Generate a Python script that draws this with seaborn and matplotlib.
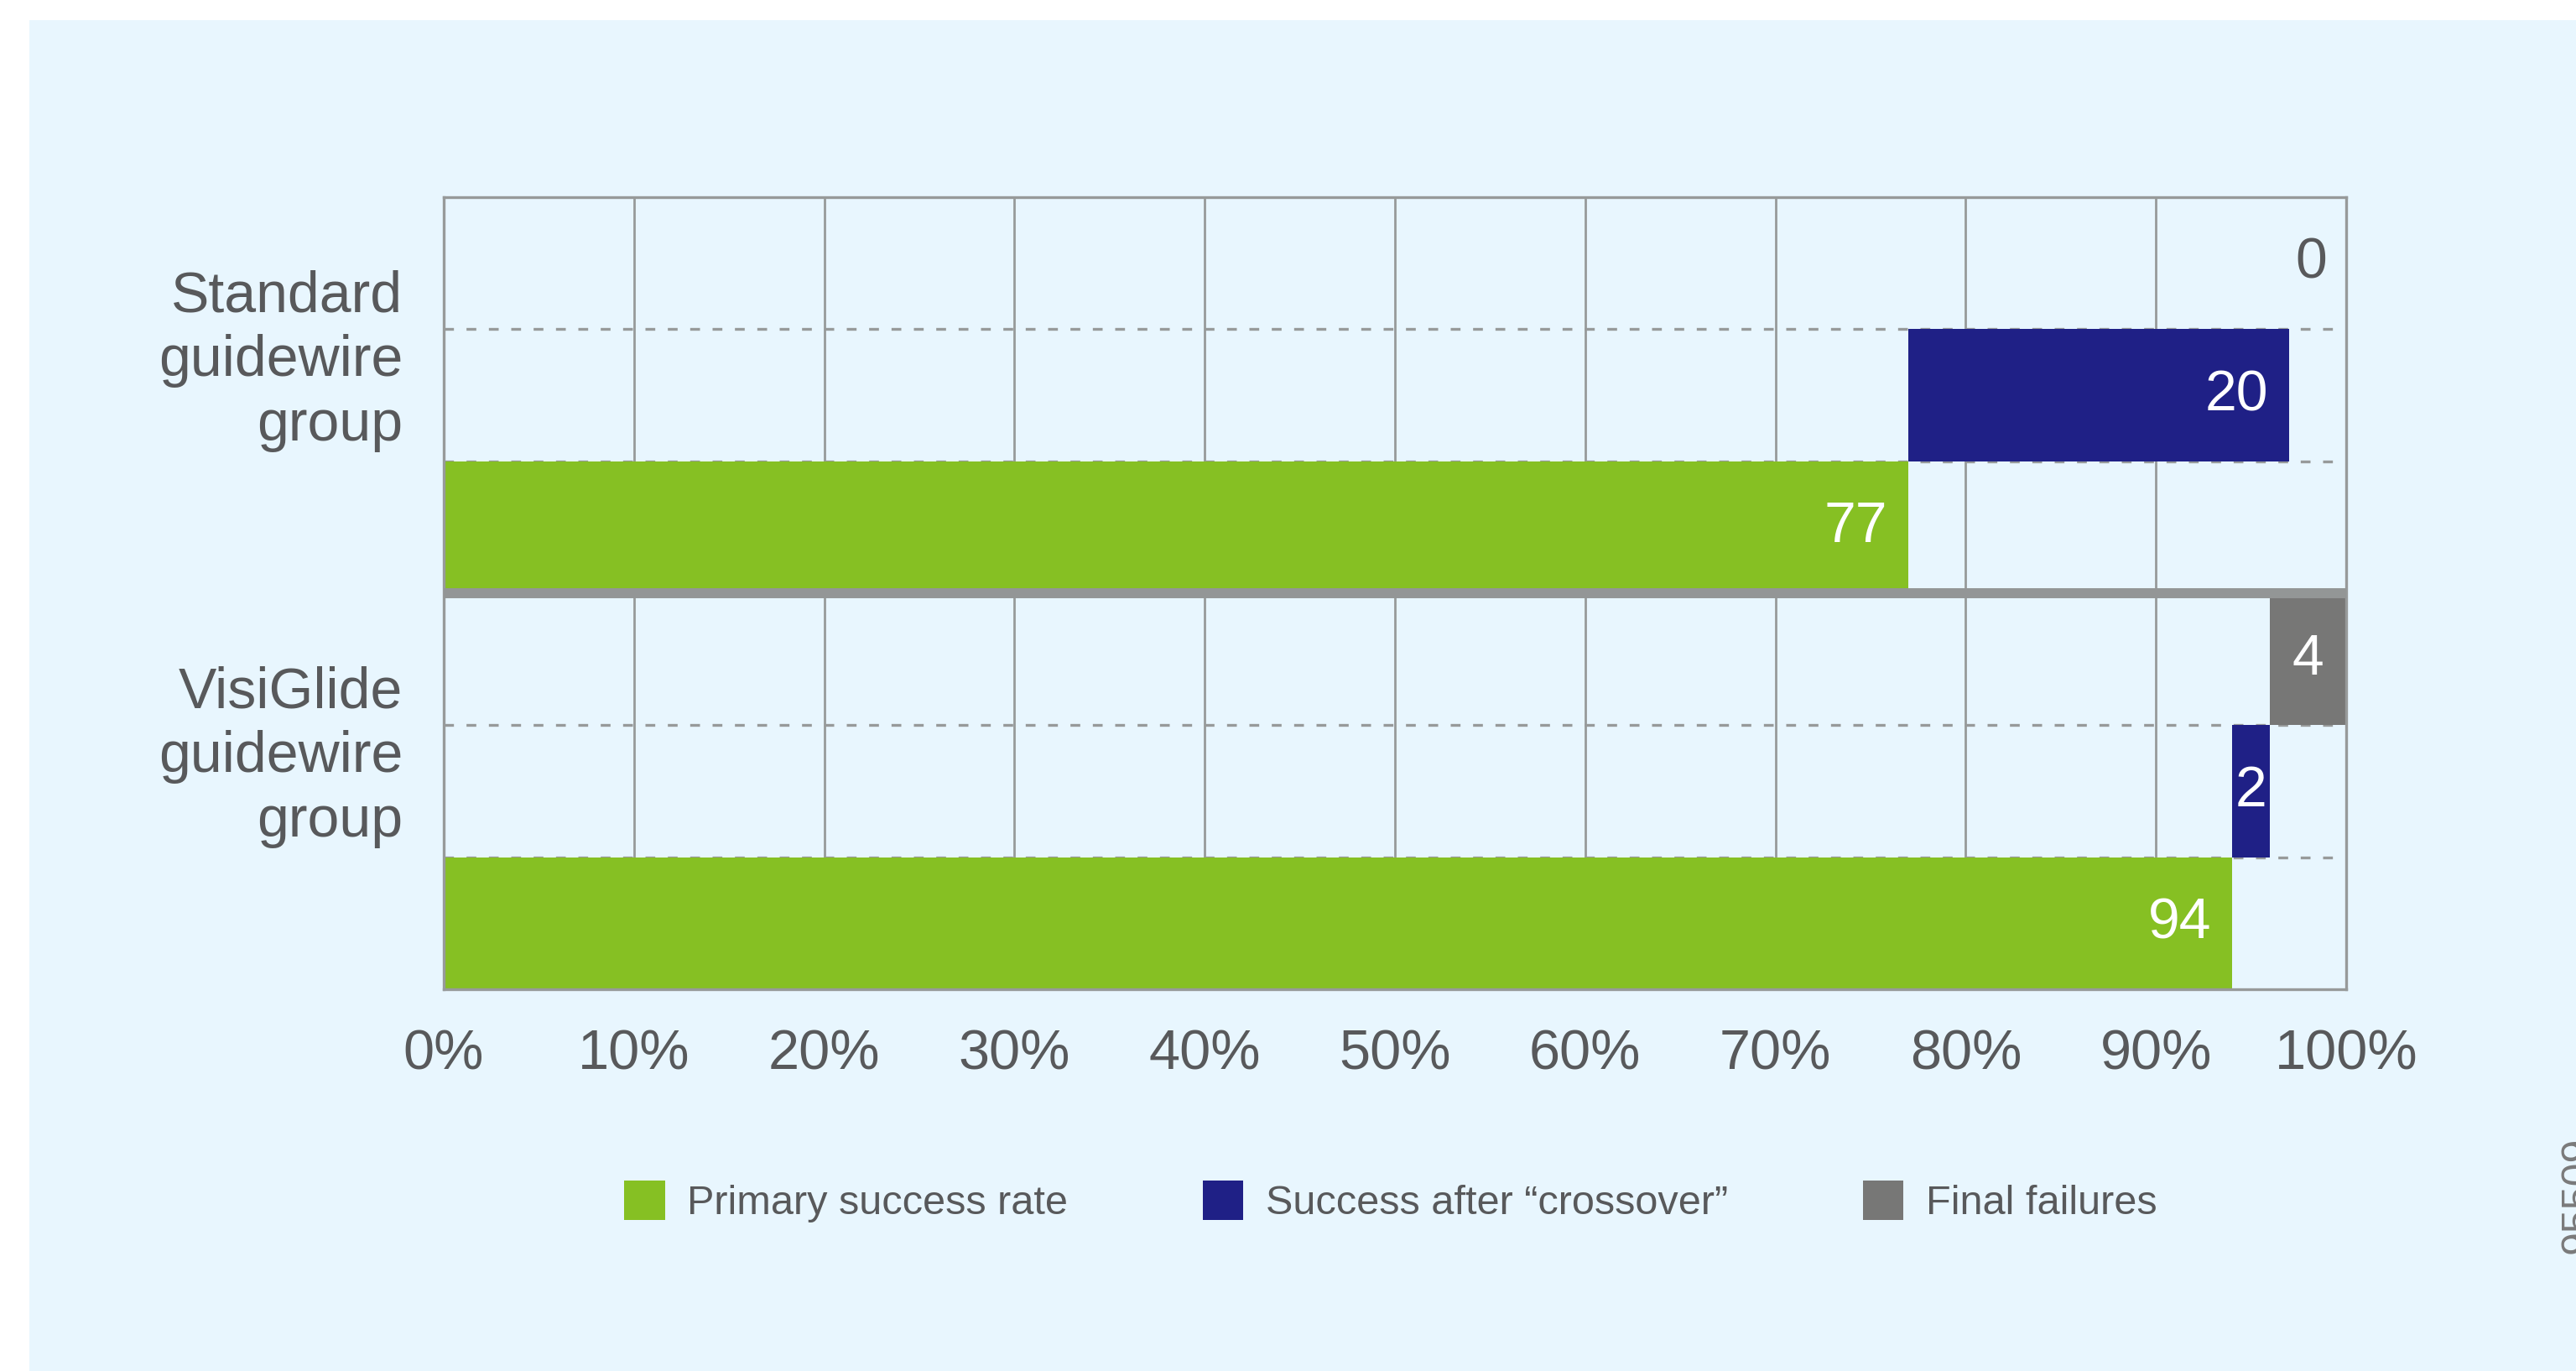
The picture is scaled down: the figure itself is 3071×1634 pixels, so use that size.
import matplotlib
matplotlib.use("Agg")
import matplotlib.pyplot as plt
from matplotlib.patches import Rectangle, Patch
import seaborn as sns
import numpy as np
import pandas as pd

# ---------------- data ----------------
groups = ["Standard\nguidewire\ngroup", "VisiGlide\nguidewire\ngroup"]
series = ["Primary success rate", "Success after \u201ccrossover\u201d", "Final failures"]
primary = [77, 94]
crossover = [20, 2]
failures = [0, 4]
xticks = [0, 10, 20, 30, 40, 50, 60, 70, 80, 90, 100]
xtick_labels = ["0%", "10%", "20%", "30%", "40%", "50%", "60%", "70%", "80%", "90%", "100%"]
figure_id = "95509"

colors = ["#86C023", "#1F2086", "#777776"]
text_col = "#58595B"
grid_col = "#979A9A"
panel_col = "#E8F6FE"

plt.rcParams["font.family"] = ["Liberation Sans", "DejaVu Sans"]

# rows: top to bottom within each group: failures, crossover, primary
row_order = []
for g in range(len(groups)):
    for s in ["fail", "cross", "prim"]:
        row_order.append(f"{g}-{s}")

values = {"prim": primary, "cross": crossover, "fail": failures}
lefts = {
    "prim": [0 for _ in primary],
    "cross": [p for p in primary],
    "fail": [p + c for p, c in zip(primary, crossover)],
}
keys = ["prim", "cross", "fail"]

W, H = 3071, 1634
fig = plt.figure(figsize=(W / 100, H / 100), dpi=100)
fig.patch.set_facecolor("white")
fig.patches.append(Rectangle((35 / W, 0), 1 - 35 / W, 1 - 24 / H,
                             transform=fig.transFigure, facecolor=panel_col,
                             edgecolor="none", zorder=-10))

ax = fig.add_axes([529 / W, 1 - 1179 / H, (2797 - 529) / W, (1179 - 235) / H])
ax.set_facecolor(panel_col)

for k, col in zip(keys, colors):
    df = pd.DataFrame({"row": [f"{g}-{k}" for g in range(len(groups))],
                       "val": values[k]})
    sns.barplot(data=df, x="val", y="row", order=row_order, orient="h",
                color=col, saturation=1, width=1.0, errorbar=None,
                linewidth=0, left=lefts[k], ax=ax, zorder=2)

ax.set_xlim(0, 100)
ax.set_ylim(len(row_order) - 0.5, -0.5)
ax.set_xticks(xticks)
ax.set_xticklabels(xtick_labels)
ax.set_yticks([])
ax.set_xlabel("")
ax.set_ylabel("")
ax.tick_params(axis="x", length=0, pad=34, labelsize=48, labelcolor=text_col)
ax.grid(axis="x", color=grid_col, linewidth=2, zorder=0.5)
ax.grid(axis="y", visible=False)
ax.set_axisbelow(True)
for sp in ax.spines.values():
    sp.set_visible(True)
    sp.set_color(grid_col)
    sp.set_linewidth(2.4)

# dashed separators within groups
for g in range(len(groups)):
    for j in (0.5, 1.5):
        ax.axhline(g * 3 + j, color=grid_col, linewidth=2.4,
                   linestyle=(0, (3.5, 4.5)), zorder=1)
# thick separator between groups
for g in range(1, len(groups)):
    ax.axhline(g * 3 - 0.5, color="#939696", linewidth=8.6, zorder=3)

# bar labels
for k in keys:
    for g in range(len(groups)):
        y = row_order.index(f"{g}-{k}")
        v = values[k][g]
        l = lefts[k][g]
        if v >= 5:
            ax.text(l + v - 1.1, y, f"{v}", ha="right", va="center",
                    color="white", fontsize=49, zorder=4)
        elif v > 0:
            ax.text(l + v / 2, y, f"{v}", ha="center", va="center",
                    color="white", fontsize=49, zorder=4)
        else:
            ax.text(99, y, f"{v}", ha="right", va="center",
                    color=text_col, fontsize=49, zorder=4)

# group labels
ytr = ax.get_yaxis_transform()
for g, name in enumerate(groups):
    ax.text(-0.0216, g * 3 + 0.74, name, transform=ytr, ha="right",
            va="center", multialignment="right", fontsize=49,
            color=text_col, linespacing=1.26)

# legend
handles = [Patch(facecolor=c, edgecolor="none") for c in colors]
fig.legend(handles, series, loc="center left",
           bbox_to_anchor=(744 / W, (H - 1432) / H), ncol=3, frameon=False,
           fontsize=35, handlelength=1.0, handleheight=1.12,
           handletextpad=0.55, columnspacing=3.3, borderpad=0,
           borderaxespad=0, labelcolor=text_col)

# figure id, rotated at the right edge
fig.text(3052 / W, (H - 1424) / H, figure_id, rotation=90, ha="left",
         va="center", fontsize=36, color="#7A7A7A")

fig.savefig("out.png", dpi=100, facecolor=fig.get_facecolor())
